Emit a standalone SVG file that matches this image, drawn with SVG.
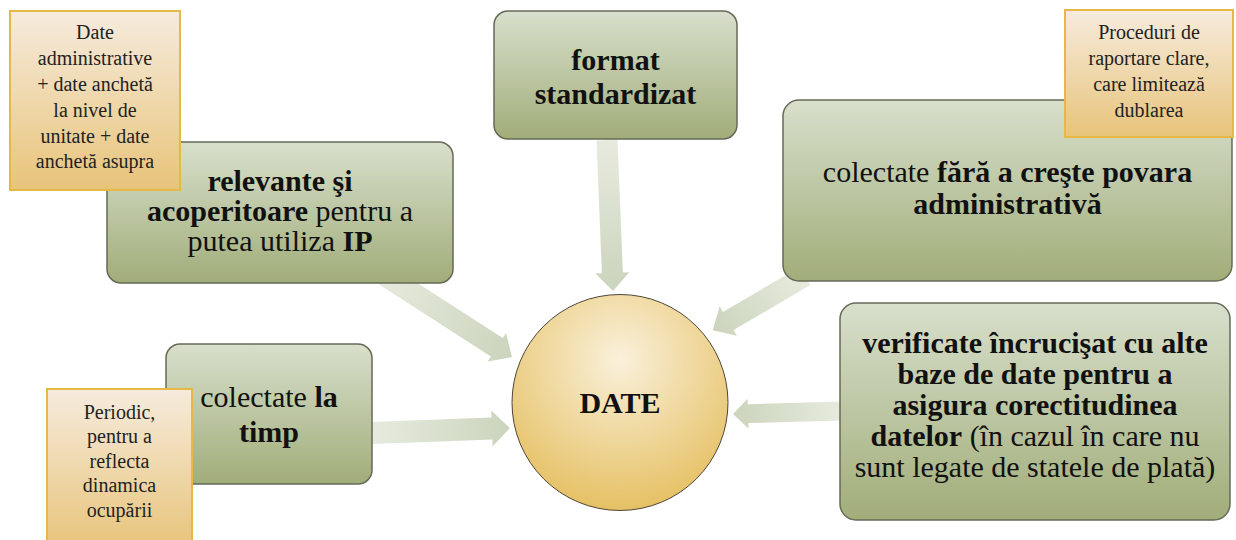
<svg xmlns="http://www.w3.org/2000/svg" width="1236" height="540" viewBox="0 0 1236 540">
<defs>
<linearGradient id="boxG" x1="0" y1="0" x2="0" y2="1">
<stop offset="0" stop-color="#d8dfcc"/>
<stop offset="1" stop-color="#a1ad79"/>
</linearGradient>
<linearGradient id="noteG" x1="0" y1="0" x2="0" y2="1">
<stop offset="0" stop-color="#f6ebdd"/>
<stop offset="1" stop-color="#e8c47a"/>
</linearGradient>
<linearGradient id="arrG" x1="0" y1="0" x2="1" y2="0">
<stop offset="0" stop-color="#e7ebdf"/>
<stop offset="1" stop-color="#cbd4bc"/>
</linearGradient>
<radialGradient id="circG" cx="0.5" cy="0.3" r="0.75">
<stop offset="0" stop-color="#faf1db"/>
<stop offset="1" stop-color="#e4bd5c"/>
</radialGradient>
</defs>
<style>
.box{fill:url(#boxG);stroke:#666a57;stroke-width:1.5}
.note{fill:url(#noteG);stroke:#e6b845;stroke-width:2}
.arr{fill:url(#arrG)}
.t{font-family:"Liberation Serif","Times New Roman",serif;font-size:30px;fill:#111;text-anchor:middle}
.n{font-family:"Liberation Serif","Times New Roman",serif;font-size:20px;fill:#222;text-anchor:middle}
.b{font-weight:bold}
</style>
<rect width="1236" height="540" fill="#ffffff"/>
<g id="connectors">
<polygon class="arr" transform="translate(607,140) rotate(87.7)" points="0,-10.5 133,-10.5 133,-17 151,0 133,17 133,10.5 0,10.5"/>
<polygon class="arr" transform="translate(380,272) rotate(32.8)" points="0,-11 139,-11 139,-17 157,0 139,17 139,11 0,11"/>
<polygon class="arr" transform="translate(805,276) rotate(149.6)" points="0,-10.5 89,-10.5 89,-17 107,0 89,17 89,10.5 0,10.5"/>
<polygon class="arr" transform="translate(372,433) rotate(-2.1)" points="0,-11 120,-11 120,-18 138,0 120,18 120,11 0,11"/>
<polygon class="arr" transform="translate(842,411) rotate(178.4)" points="0,-9.5 94,-9.5 94,-15 109,0 94,15 94,9.5 0,9.5"/>
</g>
<g id="node-relevante">
<rect class="box" x="107" y="142" width="346" height="141" rx="14"/>
<text class="t" x="280" y="191"><tspan class="b">relevante şi</tspan></text>
<text class="t" x="280" y="221"><tspan class="b">acoperitoare</tspan> pentru a</text>
<text class="t" x="280" y="251">putea utiliza <tspan class="b">IP</tspan></text>
</g>
<g id="node-format">
<rect class="box" x="494" y="11" width="243" height="128" rx="14"/>
<text class="t b" x="615.5" y="70">format</text>
<text class="t b" x="615.5" y="104">standardizat</text>
</g>
<g id="node-povara">
<rect class="box" x="783" y="100" width="449" height="181" rx="16"/>
<text class="t" x="1007.5" y="182">colectate <tspan class="b">fără a creşte povara</tspan></text>
<text class="t b" x="1007.5" y="214">administrativă</text>
</g>
<g id="node-timp">
<rect class="box" x="166" y="344" width="206" height="140" rx="14"/>
<text class="t" x="269" y="407">colectate <tspan class="b">la</tspan></text>
<text class="t b" x="269" y="442">timp</text>
</g>
<g id="node-verificate">
<rect class="box" x="840" y="303" width="390" height="217" rx="16"/>
<text class="t b" x="1035" y="353">verificate încrucişat cu alte</text>
<text class="t b" x="1035" y="384">baze de date pentru a</text>
<text class="t b" x="1035" y="415">asigura corectitudinea</text>
<text class="t" x="1035" y="446"><tspan class="b">datelor</tspan> (în cazul în care nu</text>
<text class="t" x="1035" y="477">sunt legate de statele de plată)</text>
</g>
<g id="note-admin">
<rect class="note" x="10" y="11" width="170" height="179"/>
<text class="n" x="95" y="39">Date</text>
<text class="n" x="95" y="65">administrative</text>
<text class="n" x="95" y="91">+ date anchetă</text>
<text class="n" x="95" y="117">la nivel de</text>
<text class="n" x="95" y="143">unitate + date</text>
<text class="n" x="95" y="168">anchetă asupra</text>
</g>
<g id="note-proceduri">
<rect class="note" x="1065" y="10" width="168" height="127"/>
<text class="n" x="1149" y="39">Proceduri de</text>
<text class="n" x="1149" y="65">raportare clare,</text>
<text class="n" x="1149" y="91">care limitează</text>
<text class="n" x="1149" y="117">dublarea</text>
</g>
<g id="note-periodic">
<rect class="note" x="47" y="389" width="145" height="160"/>
<text class="n" x="119.5" y="419">Periodic,</text>
<text class="n" x="119.5" y="443">pentru a</text>
<text class="n" x="119.5" y="468">reflecta</text>
<text class="n" x="119.5" y="492">dinamica</text>
<text class="n" x="119.5" y="517">ocupării</text>
</g>
<g id="node-date">
<circle cx="620" cy="402.5" r="108" fill="url(#circG)" stroke="#4d4638" stroke-width="1"/>
<text class="t b" x="620" y="413">DATE</text>
</g>
</svg>
